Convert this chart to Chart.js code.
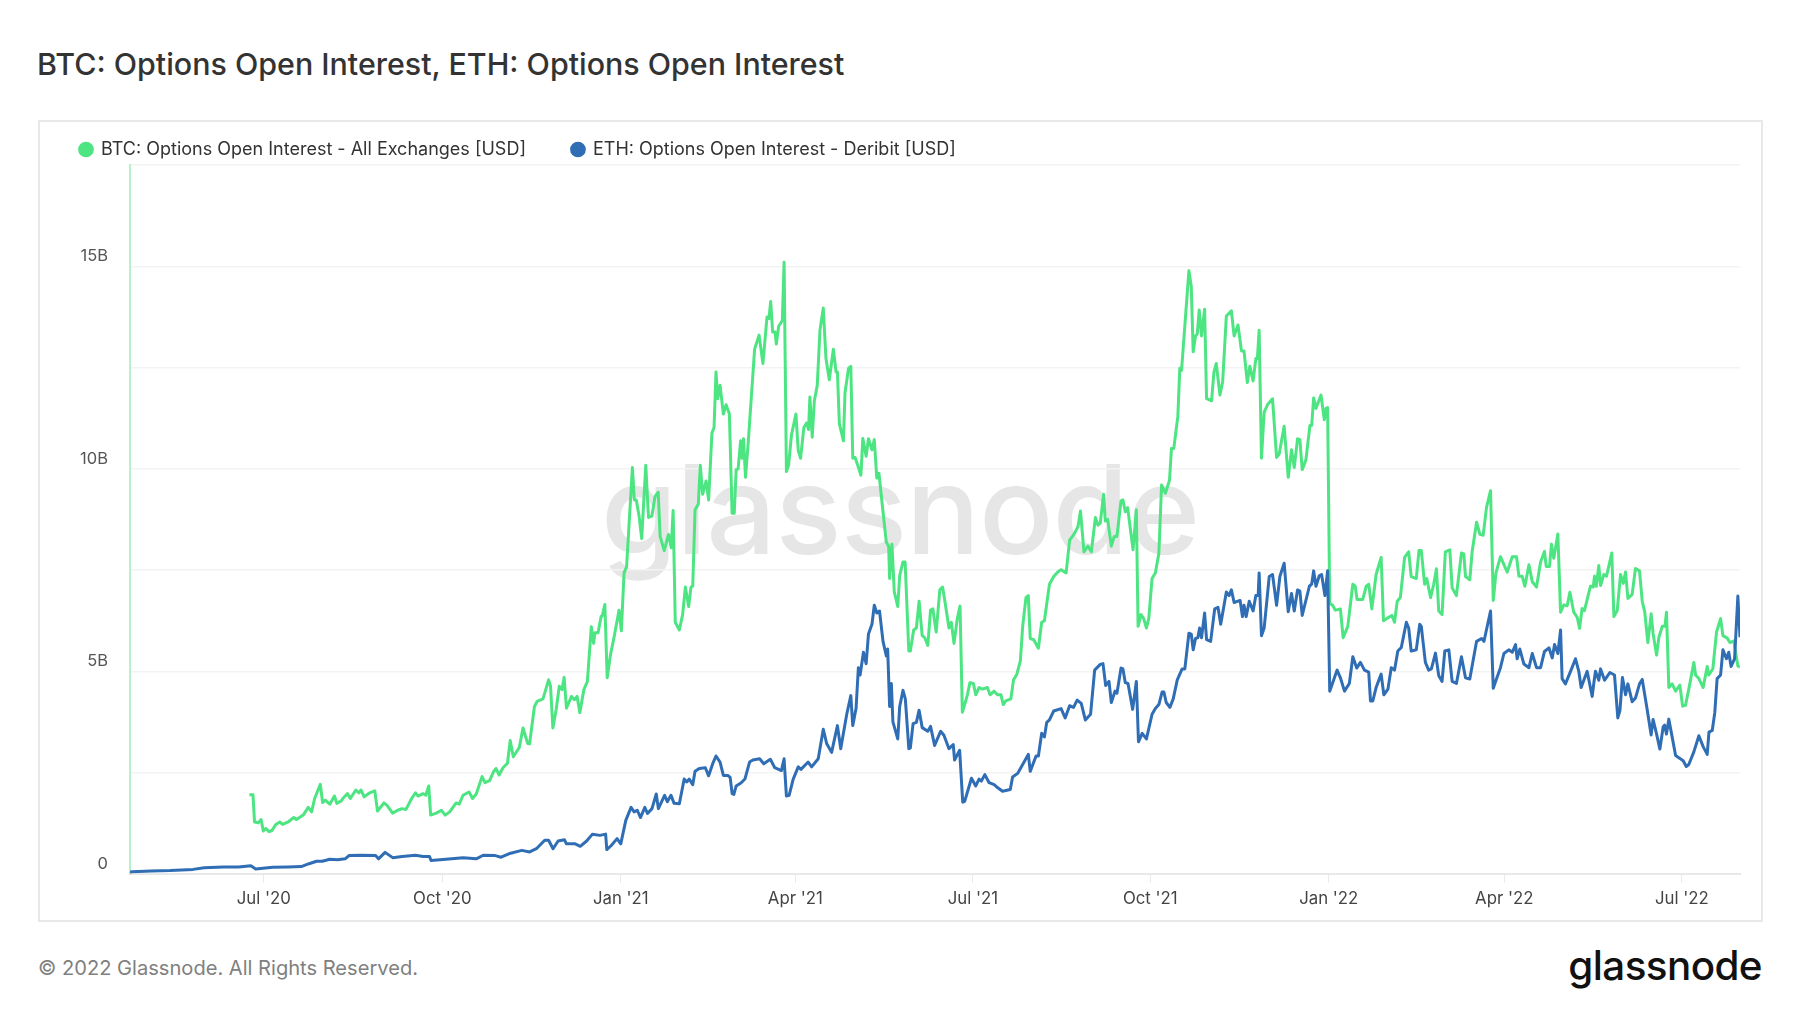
<!DOCTYPE html>
<html><head><meta charset="utf-8">
<script src="https://cdn.jsdelivr.net/npm/chart.js@4"></script>
<style>
html,body{margin:0;padding:0;background:#fff;width:1800px;height:1013px;overflow:hidden;font-family:Inter,sans-serif}
#title{position:absolute;left:37px;top:44px;font-size:30.4px;font-weight:450;color:#333;white-space:nowrap;line-height:40px}
#panel{position:absolute;left:38px;top:120px;width:1721px;height:798px;border:2px solid #e8e8e8;box-sizing:content-box}
#mark{position:absolute;left:601px;top:425px;font-size:123.2px;font-weight:500;color:#e6e6e6;line-height:170px;white-space:nowrap;letter-spacing:-1px}
#wrap{position:absolute;left:38px;top:120px;width:1726px;height:802px}
#foot{position:absolute;left:38px;top:954px;font-size:20.1px;color:#808080;line-height:28px;white-space:nowrap}
#logo{position:absolute;right:38px;top:936px;font-size:40.4px;font-weight:500;color:#111;line-height:60px;letter-spacing:-.6px;white-space:nowrap}
</style></head><body>
<div id="title">BTC: Options Open Interest, ETH: Options Open Interest</div>
<div id="panel"></div>
<div id="mark">glassnode</div>
<div id="wrap"><canvas id="c"></canvas></div>
<div id="foot">© 2022 Glassnode. All Rights Reserved.</div>
<div id="logo">glassnode</div>
<script>
// x values are days since 23 Apr 2020; y values are USD billions
const tickDays=[69,161,253,343,434.5,526,618,708.5,800];
const tickLabels=["Jul '20","Oct '20","Jan '21","Apr '21","Jul '21","Oct '21","Jan '22","Apr '22","Jul '22"];
const btcName="BTC: Options Open Interest - All Exchanges [USD]";
const ethName="ETH: Options Open Interest - Deribit [USD]";
const btcDays=[61.5,63.4,64.2,66.2,67.6,68.7,70.1,71.7,73.2,75.2,77.2,78.7,81.5,84.4,85.8,89.3,91.9,93.6,95.2,98.1,99.3,100.7,103,105.4,106.6,108.9,110.1,112.1,113.6,116.4,118,119.1,120.7,123.6,126.2,127.6,130.9,132.5,135.4,138,140.3,142.3,145.2,147.2,148.5,151,152.5,154,155,158,160.5,162.5,164.8,168.1,169.7,171.7,174.8,176.6,178.5,181.5,183,185.4,187.4,188.7,190.3,192.3,194.6,196,197.6,200.7,202.6,205,206,208.5,209.9,212.9,215.8,216.8,218,219.7,221.3,222.7,223.8,225,227.6,229.1,230.5,231.9,234,235.8,237.8,239,239.7,241.3,242.9,243.4,244.8,
246,247.7,249.5,252.1,253.3,254.7,256,259,260,261,262.4,263.8,265.9,267.3,269,270.7,272.3,273.3,275.4,277.6,279,280,281.1,283.2,284.9,286.3,288,289.2,290.1,291.3,293,294,295.2,297,298.3,300,301.1,302.1,303,304.2,305.9,307.3,309,310.4,311.5,312.5,313.5,314.8,315.6,316.3,317.3,318.7,322,324.3,326.3,328.4,329.4,330.3,331.3,332.5,333.2,334.4,336.3,337.2,338.4,339.5,341,343.3,344.5,345.7,347.4,348.8,349.8,350.5,351.7,352.8,354.3,355.7,357.4,358.8,360.5,362.6,364,364.7,365.7,367.8,368.6,370.4,371.6,372.6,373.8,375.2,376.8,377.8,379.5,380.7,382.5,383.7,385,386.1,388.2,389.9,391.1,391.6,392.8,394,395.8,396.8,398.5,399.6,401.5,402.3,404,405.4,406.8,408.4,409.7,411.3,412.7,413.9,415.6,417.5,418.9,419.9,422.2,423.4,424.8,426.5,427.9,429.1,430.3,431.7,433,434.8,436,437.7,439.5,442,443.4,445.5,447.2,449,450.2,451.5,454.1,455.5,457.2,459,460.2,461.9,463.1,464.1,465.9,468.3,470,471.4,474,476.2,478.3,480,482.6,484.4,486.6,488.7,490,491.8,493.8,495.6,497.7,499,
500.2,501.9,502.8,504,505.9,507.4,508.8,510.9,511.9,513.1,514.3,517.1,518.8,519.7,521.2,522.6,524,525.2,526.9,528.6,530.4,531.8,533.8,535.9,536.9,538.1,540.2,541.2,542.1,545.9,547.1,548.1,549.3,550.2,551.2,552.4,554,555,557.6,558.8,560,561.9,563.3,565.2,567.8,569.2,571.2,573,574.3,576,577.3,579,580.4,581.2,582.1,583.3,584.7,586.4,589,591.1,592.4,595,597.1,598.8,600.2,601.9,603.1,604.3,606.2,608.3,609.2,610.2,611.4,614,615.7,616.6,617.4,618.5,620,621.4,624,625.4,627.8,630.4,631.6,632.6,635.5,637.3,638.6,640.2,642.4,645,646.2,648.5,650.5,651.9,653.3,654.9,657.1,659.2,660.5,663.1,664.5,665.7,667.4,668.5,670.5,672.1,673.5,674.7,676.4,678.1,680.4,681.6,683.8,686.4,687.6,688.5,690.7,691.9,694.2,695.9,697.6,699.3,701.4,702.8,704.2,
706.5,710,712.6,714.8,716,717.7,719.1,721.2,722.9,725.1,727.2,729.2,730.1,731.8,732.8,734,736.1,737.5,739.2,740.9,742.3,744.3,746.1,747.3,748.6,749.8,751.2,752.9,754.3,755,755.9,757.2,758.1,759.8,761.2,763.9,765,766.7,768.4,769.8,771,772.2,774.4,776.1,778.2,779.6,780.9,782.5,784.2,785.2,787,788.2,789.9,791.3,792.1,793.3,795,796.8,799,800.4,801.9,803.6,806.2,807.1,808.8,811,813.1,813.9,816,817.9,820,821.2,823.4,824.8,826.8,828.9,830];
const btcValues=[1.95,1.95,1.28,1.26,1.34,1.06,1.12,1.04,1.07,1.22,1.28,1.22,1.28,1.39,1.34,1.45,1.64,1.53,1.86,2.21,1.76,1.82,1.72,1.92,1.74,1.8,1.88,1.98,1.86,2.07,2,2.07,1.9,2,2.05,1.55,1.75,1.69,1.5,1.57,1.61,1.59,1.86,2,1.92,1.98,1.94,2.17,1.45,1.5,1.57,1.45,1.53,1.75,1.72,1.94,2.02,1.86,1.97,2.4,2.25,2.3,2.52,2.6,2.44,2.62,2.73,3.29,2.89,3.12,3.6,3.22,3.21,4.13,4.26,4.32,4.79,4.63,3.6,4.05,4.63,4.55,4.85,4.09,4.38,4.3,4.38,3.98,4.55,4.75,6.1,5.69,5.95,5.95,6.36,6.36,6.65,
4.84,5.41,5.83,6.51,6,7.43,7.58,10.03,9.23,9.23,8.85,8.28,10.09,8.8,8.83,9.32,9.42,8.33,7.98,8.38,8.05,8.97,6.21,6.02,6.4,7.08,6.6,7.08,7.1,8.99,9.13,10.09,9.37,9.7,9.23,10.88,11.02,12.39,11.73,12.06,11.35,11.58,11.35,8.9,8.9,9.98,10,10.69,10.26,10.74,9.79,10.64,12.95,13.3,12.6,13.75,13.71,14.13,13.38,13.38,13.08,13.52,13.66,15.1,9.93,10.08,10.83,11.35,10.45,10.26,11.02,11.13,10.97,11.77,10.78,11.68,12.06,13.42,13.97,12.72,12.2,12.95,12.39,12.39,11.11,10.69,11.87,12.48,12.53,10.26,10.28,10.08,9.84,10.75,10.31,10.74,10.47,10.72,9.77,9.89,8.94,8.19,8.09,7.29,8.14,6.96,6.6,7.36,7.7,7.7,5.5,5.5,6.02,6.07,6.73,5.88,5.83,5.64,6.51,6.54,5.97,7.01,7.08,6.79,6.07,6.21,5.69,6.3,6.61,3.99,4.18,4.42,4.72,4.7,4.42,4.6,4.56,4.6,4.42,4.51,4.42,4.42,4.18,4.27,4.32,4.79,4.93,5.26,6.11,6.82,6.87,5.81,5.78,5.57,6.21,6.25,7.15,7.34,7.45,7.51,7.43,8.24,8.38,8.57,8.96,7.95,8.09,7.95,8.8,8.61,
8.66,9.37,8.71,8.75,8.09,8.33,8.33,9.21,9.23,8.94,9.04,8,8.99,6.11,6.4,6.3,6.07,6.3,7.29,7.43,7.91,9.6,9.4,9.72,10.5,10.5,11.3,12.48,12.43,14.89,14.51,12.89,13.28,13.33,13.92,13.28,13.94,11.73,11.68,12.39,12.6,11.82,12.15,13.77,13.9,13.28,13.55,12.91,12.91,12.13,12.53,12.17,12.72,12.72,13.42,10.26,11.4,11.58,11.73,10.28,10.36,11.05,9.79,10.47,10.03,10.74,10.72,9.98,10.22,11.07,11.07,11.75,11.49,11.82,11.21,11.49,11.51,6.68,6.63,6.51,6.54,5.83,6.11,7.15,7.1,6.77,6.77,7.1,7.15,6.54,7.39,7.81,6.25,6.32,6.38,6.21,6.73,6.82,7.81,7.95,7.34,7.29,7.98,7.98,7.15,7.29,6.82,7.15,7.53,6.49,6.4,7.95,8,7.06,6.87,7.92,7.9,7.34,7.26,7.95,8.68,8.38,8.36,9.04,9.46,6.75,7.43,
7.83,7.45,7.83,7.83,7.35,7.35,7.1,7.63,7.21,7.08,7.7,7.96,7.59,7.59,8.14,7.79,8.39,6.46,6.64,6.62,6.95,6.46,6.33,6.06,6.55,6.5,6.77,7.1,7.08,7.35,7.1,7.61,7.12,7.39,7.35,7.92,6.35,6.5,7.39,7.17,7.45,6.8,6.9,7.54,7.48,6.73,6.46,5.71,6.42,5.93,5.4,5.84,6.11,6.11,6.46,4.6,4.69,4.51,4.66,4.14,4.16,4.56,5.22,4.91,4.82,4.6,5.12,4.91,5.06,5.97,6.3,5.88,5.82,5.71,5.75,5.13,5.11];
const ethDays=[0,1,10.9,20.7,32.5,38.3,48.1,56,62.3,64.8,73.6,81.5,88.3,92.3,96.2,99.1,103,107,110.9,112.9,118.7,126.6,128.1,131.5,135.4,140.3,147.2,151.1,154.4,155.2,162.9,171.7,178.5,182.1,188.3,191.3,196.2,202,206,209.5,213.8,215.8,218.1,220.7,224,225,229.5,232.1,235.4,238.4,242.3,245.2,245.8,248.1,251.1,253,255.6,258.3,259.9,261.5,263.2,265.4,266.8,269.1,271.3,272.4,275.6,277,278.9,280.5,283.2,285.7,287,288.3,290.1,291.3,293.5,296.6,298.3,300.4,302.1,304.2,305.9,308.2,309.4,310.4,311.3,312.5,315.1,317,319.4,321.1,324.6,326.7,330.1,332.4,335.8,337.2,338.4,339.8,341.9,344.5,345.9,349.6,351.4,354.8,357.4,359.2,361.7,364.7,366.4,369.5,371.6,372.6,374.3,375.5,376.4,378.1,379.5,380.7,382.5,383.7,385,386.4,388.2,389.9,390.6,391.6,392.5,393.3,395.8,396.8,398.5,399.7,401.5,402.3,403.7,405.4,406.8,408.4,411.3,412.7,414.8,417.9,419.6,422.2,424.4,425.1,427.7,429.3,430.3,433.8,436,437.7,438.9,440.7,442.9,445.5,447.2,449.8,453.8,455,457.6,460.7,463.1,464.1,467.1,468.3,470,471.4,472.6,474,476.2,480,482.1,484.4,486.4,488.3,490.4,492.5,495.2,497.3,
500.2,501.6,503,504.7,505.9,507.8,508.8,510.9,511.9,513.1,514.5,516.9,518.8,519.9,521.8,524,526.9,528.6,530.4,532.1,533,534.2,536.1,537.8,539.9,542.4,543.8,545.9,547.1,548.1,549.3,550.5,551.4,552.4,554,555,557.1,559.2,560.9,562.3,565.2,566.6,567.8,569.2,572.3,573.5,574.3,575.4,577,579,580.4,581.6,582.1,583.3,584.7,587.3,589,591.1,592.8,595,597.1,598.8,600.2,601.9,603.1,604.3,608,609.2,610.2,611.4,613.1,614.3,616,617.4,618.5,622.3,624,626.1,628.6,630.4,632.4,634.3,636.4,638.6,639.5,640.7,642.4,645,646.4,648.5,650.2,651.9,653.6,655.4,658,659.2,660.5,663.1,664.9,665.7,667.8,669.5,670.9,673,674.7,676.4,677.8,679.9,681.6,683.8,686.4,688.5,690.7,694.2,696.8,698,701.4,702.8,704,
706.5,708.3,710.8,712.6,714.3,715.1,716.5,718.6,721.2,722.9,725.1,727.2,729.2,731.5,733.2,734.4,736.1,737.5,738.3,740,743,745.2,746.9,748.1,751.2,753.8,754.7,755.5,757.2,758.1,760.2,762.9,765.3,767,768.1,769.4,771,772.2,774.4,776.1,778.2,779.6,782.1,784.2,785.2,787,788.7,790.4,791.1,792.1,793.3,796.8,799,800.7,802.3,803.6,806.2,808.8,811,813.1,814,815.7,817,818.2,820,821.2,823,824.2,825.4,827.2,828.9,830];
const ethValues=[0.04,0.05,0.07,0.08,0.11,0.15,0.17,0.17,0.2,0.12,0.16,0.17,0.18,0.25,0.31,0.31,0.36,0.35,0.37,0.45,0.46,0.45,0.37,0.53,0.4,0.43,0.46,0.43,0.43,0.33,0.36,0.4,0.37,0.46,0.45,0.41,0.51,0.58,0.54,0.62,0.83,0.83,0.62,0.81,0.84,0.74,0.74,0.68,0.81,0.98,0.95,0.98,0.6,0.7,0.87,0.74,1.32,1.64,1.53,1.57,1.39,1.64,1.49,1.61,1.97,1.61,1.94,1.78,1.94,1.74,1.73,2.34,2.27,2.34,2.2,2.53,2.6,2.62,2.42,2.72,2.91,2.76,2.43,2.43,2.38,1.98,1.96,2.17,2.25,2.34,2.76,2.81,2.84,2.72,2.83,2.62,2.55,2.84,1.92,1.94,2.34,2.64,2.58,2.76,2.64,2.84,3.57,3.21,3,3.66,3.09,3.94,4.4,3.66,4.08,5.09,4.91,5.47,5.19,5.92,6.16,6.63,6.44,6.49,5.74,5.38,5.55,4.13,4.7,3.75,3.33,4.13,4.53,4.32,3.09,3.11,3.71,3.74,4.04,3.61,3.52,3.64,3.17,3.52,3.42,3.09,3.19,2.81,3.05,1.77,1.79,2.36,2.17,2.34,2.29,2.45,2.25,2.2,2.13,2.04,2.08,2.39,2.48,2.74,2.95,2.53,2.91,2.91,3.47,3.38,3.74,3.8,4.02,4.08,3.85,4.15,4.11,4.29,4.21,3.8,3.94,5.03,
5.17,5.19,4.65,4.75,4.23,4.51,4.46,5.08,5.06,4.72,4.7,4.06,4.75,3.26,3.47,3.33,3.94,4.08,4.18,4.49,4.49,4.23,4.11,4.32,4.79,5.06,5.06,5.94,5.92,5.53,5.81,5.83,6.07,5.83,6.44,5.78,5.74,6.54,6.58,6.16,6.96,6.87,7.01,6.7,6.75,6.35,6.63,6.35,6.73,6.49,6.87,6.87,7.43,5.88,6.07,7.34,7.39,6.63,7.34,7.67,6.47,6.92,6.49,7.01,6.98,6.38,7.1,7.15,7.48,7.1,7.36,7.39,6.87,7.48,4.51,5.03,4.84,4.51,4.7,5.36,5.08,5.22,5.03,4.98,4.27,4.27,4.6,4.93,4.42,4.56,5.09,5.03,5.5,5.59,6.21,6.07,5.5,5.53,6.16,6.11,5.22,5.03,5.06,5.45,4.89,4.75,5.5,5.53,4.75,4.7,5.36,4.84,4.81,5.74,5.81,5.74,6.49,4.58,4.75,5.09,
5.44,5.53,5.47,5.66,5.31,5.55,5.18,5.09,5.44,5.09,5.09,5.49,5.58,5.33,5.66,5.44,6.02,4.82,4.69,5.04,5.31,5,4.6,5,4.38,4.73,5,4.78,5.06,4.78,4.97,4.91,3.85,4.03,4.85,4.42,4.69,4.25,4.34,4.69,4.8,4.07,3.43,3.81,3.45,3.08,3.63,3.67,3.45,3.82,2.92,2.85,2.79,2.65,2.7,3.01,3.41,3.14,2.95,3.5,3.54,3.98,4.82,4.91,5.53,5.31,5.47,5.12,5.31,6.86,5.84,5.69];
const btcData=btcDays.map((d,i)=>({x:d,y:btcValues[i]}));
const ethData=ethDays.map((d,i)=>({x:d,y:ethValues[i]}));
const fontFam="Inter, sans-serif";
const legendGap={id:'legendGap',beforeLayout(chart){
 const l=chart.legend; if(l&&!l._gap){const f=l.fit;l.fit=function(){f.call(this);this.height-=3.5;};l._gap=true;}
}};
new Chart(document.getElementById('c'),{
 type:'line',
 plugins:[legendGap],
 data:{datasets:[
  {label:btcName,data:btcData,borderColor:'#4ce582',backgroundColor:'#4ce582',borderWidth:3,borderJoinStyle:'round',pointRadius:0,tension:0,order:2},
  {label:ethName,data:ethData,borderColor:'#2f6db5',backgroundColor:'#2f6db5',borderWidth:3,borderJoinStyle:'round',pointRadius:0,tension:0,order:1}
 ]},
 options:{
  responsive:true,maintainAspectRatio:false,animation:false,
  layout:{padding:{left:-4,right:24,top:-25.5,bottom:7}},
  plugins:{
   legend:{position:'top',align:'start',labels:{usePointStyle:true,pointStyle:'circle',boxWidth:12,boxHeight:9,padding:46,color:'#333',font:{family:fontFam,size:18},
     sort:(a,b)=>a.datasetIndex-b.datasetIndex}},
   tooltip:{enabled:false}
  },
  scales:{
   x:{type:'linear',min:0,max:830,
    afterBuildTicks(s){s.ticks=tickDays.map(v=>({value:v}));},
    grid:{drawOnChartArea:false,color:'#eaeaea',tickLength:9,lineWidth:1},
    border:{color:'#e8e8e8',width:2},
    ticks:{autoSkip:false,maxRotation:0,padding:6,color:'#444',font:{family:fontFam,size:16.8},
     callback(v){const i=tickDays.indexOf(v);return i<0?'':tickLabels[i];}}
   },
   y:{min:0,max:17.5,
    afterFit(s){s.width=96;},
    grid:{color:'#f3f3f3',lineWidth:1.5,drawTicks:false},
    border:{color:'#b9f0cc',width:2},
    ticks:{stepSize:2.5,padding:22,color:'#555',font:{family:fontFam,size:16.5},
     callback(v){return v%5===0?[v===0?'0':v+'B','']:'';}}
   }
  }
 }
});
</script>
</body></html>
